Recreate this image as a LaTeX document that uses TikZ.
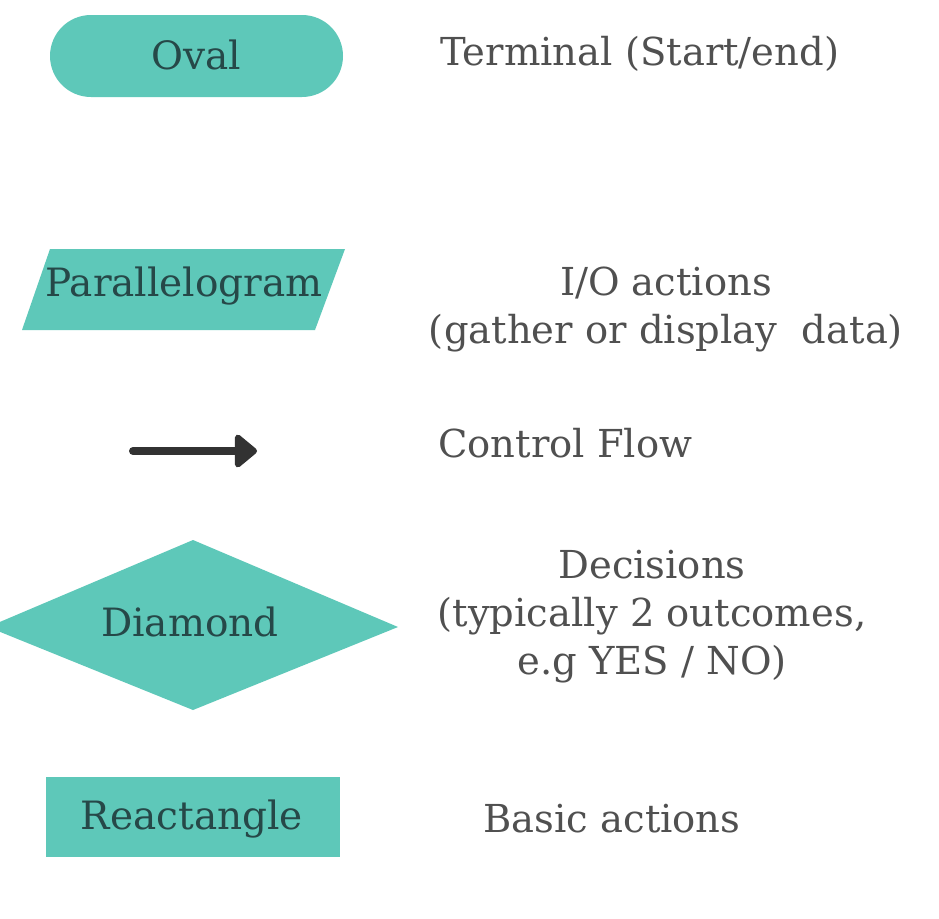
\documentclass[tikz,border=0pt]{standalone}
\usepackage{fontspec}
\setmainfont{DejaVu Serif}
\usetikzlibrary{arrows.meta}
\definecolor{tealfill}{RGB}{94,200,185}
\definecolor{shapetext}{RGB}{38,72,72}
\definecolor{labeltext}{RGB}{80,80,80}
\definecolor{arrowcol}{RGB}{50,50,50}
\begin{document}
\begin{tikzpicture}[x=1pt,y=-1pt,
  shapelabel/.style={font=\fontsize{39}{47}\selectfont, text=shapetext, inner sep=0pt},
  desclabel/.style={font=\fontsize{38.5}{48}\selectfont, text=labeltext, align=center, inner sep=0pt},
  shapefill/.style={fill=tealfill, draw=none}]
\useasboundingbox[fill=white] (0,0) rectangle (939,918);
% Oval
\fill[shapefill, rounded corners=41pt] (50,15) rectangle (343,97);
\node[shapelabel] (oval) at (196,55) {Oval};
\node[desclabel, anchor=west] (term) at (440,54) {Terminal (Start/end)};
% Parallelogram
\fill[shapefill] (50,249) -- (345,249) -- (315,330) -- (22,330) -- cycle;
\node[shapelabel] (para) at (184,286) {Parallelogram};
\node[desclabel] (io) at (666,309) {I/O actions\\(gather or display~~data)};
% Arrow
\coordinate (af) at (133,451);
\coordinate (at) at (257,451);
\draw[arrowcol, line width=8pt, line cap=round, -{Triangle[length=24pt,width=38pt,round]}] (af) -- (at);
\node[desclabel, anchor=west] (cf) at (438,443) {Control Flow};
% Diamond
\fill[shapefill] (193,540) -- (398,627) -- (193,710) -- (-12,627) -- cycle;
\node[shapelabel] (dia) at (190,622) {Diamond};
\node[desclabel] (dec) at (652,617) {Decisions\\(typically 2 outcomes,\\e.g YES / NO)};
% Rectangle
\fill[shapefill] (46,777) rectangle (340,857);
\node[shapelabel] (rect) at (192,819) {Reactangle};
\node[desclabel] (basic) at (612,819) {Basic actions};
\end{tikzpicture}
\end{document}
